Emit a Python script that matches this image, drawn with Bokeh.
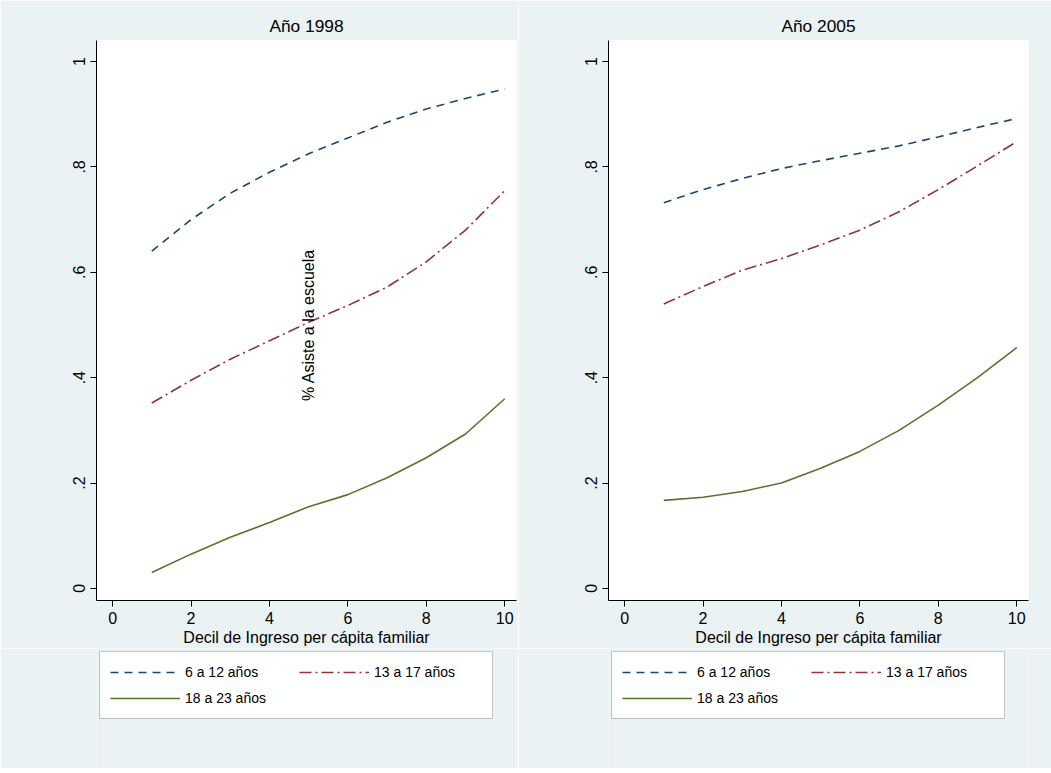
import math
from bokeh.plotting import figure
from bokeh.layouts import row, column
from bokeh.models import Legend, LegendItem, FixedTicker, Label, Range1d, CustomJSTickFormatter
from bokeh.embed import file_html
from bokeh.resources import INLINE

deciles = [1, 2, 3, 4, 5, 6, 7, 8, 9, 10]
y1998_6_12 = [0.640, 0.700, 0.750, 0.790, 0.825, 0.855, 0.885, 0.910, 0.930, 0.948]
y1998_13_17 = [0.352, 0.395, 0.435, 0.470, 0.505, 0.537, 0.572, 0.620, 0.680, 0.755]
y1998_18_23 = [0.030, 0.065, 0.097, 0.125, 0.155, 0.178, 0.210, 0.248, 0.293, 0.360]
y2005_6_12 = [0.732, 0.757, 0.778, 0.797, 0.812, 0.826, 0.840, 0.857, 0.875, 0.892]
y2005_13_17 = [0.540, 0.573, 0.604, 0.626, 0.652, 0.680, 0.715, 0.757, 0.802, 0.848]
y2005_18_23 = [0.167, 0.173, 0.184, 0.200, 0.228, 0.260, 0.300, 0.348, 0.400, 0.457]
series_names = ["6 a 12 años", "13 a 17 años", "18 a 23 años"]
y_ticks = [0, 0.2, 0.4, 0.6, 0.8, 1]

BG = "#eaf2f3"
FONT = "Liberation Sans"
STYLES = [("#1a476f", "8 6"), ("#90353b", "12 4 2 4"), ("#55752f", "solid")]


def panel(title, ys, left_border, right_border, ylabel=False):
    p = figure(frame_width=420, frame_height=560, output_backend="svg", toolbar_location=None,
               tools="", x_range=(-0.41, 10.3), y_range=(-0.023, 1.04),
               min_border_left=left_border, min_border_right=right_border,
               min_border_top=40, min_border_bottom=45, background_fill_color="white",
               border_fill_color=BG, outline_line_color=None)
    p.title.text = title
    p.title.align = "center"
    p.title.text_font = FONT
    p.title.text_font_size = "13pt"
    p.title.text_font_style = "normal"
    p.title.text_color = "black"
    p.grid.grid_line_color = None
    p.xaxis.ticker = FixedTicker(ticks=[0, 2, 4, 6, 8, 10])
    p.yaxis.ticker = FixedTicker(ticks=y_ticks)
    p.yaxis.formatter = CustomJSTickFormatter(
        code="var s = (Math.round(tick*10)/10).toString(); return s.replace(/^0\\./, '.');")
    p.yaxis.major_label_orientation = "vertical"
    p.xaxis.axis_label = "Decil de Ingreso per cápita familiar"
    for ax in (p.xaxis, p.yaxis):
        ax.axis_line_color = "black"
        ax.major_tick_line_color = "black"
        ax.minor_tick_line_color = None
        ax.major_tick_out = 6
        ax.major_tick_in = 0
        ax.major_label_text_font = FONT
        ax.major_label_text_font_size = "12pt"
        ax.major_label_text_color = "black"
        ax.axis_label_text_font = FONT
        ax.axis_label_text_font_size = "12pt"
        ax.axis_label_text_font_style = "normal"
        ax.axis_label_text_color = "black"
        ax.axis_label_standoff = 2
    for y, (c, d) in zip(ys, STYLES):
        p.line(deciles, y, line_color=c, line_dash=d, line_width=1.6)
    if ylabel:
        p.add_layout(Label(x=5.2, y=0.5, text="% Asiste a la escuela", angle=math.pi / 2,
                           text_font=FONT, text_font_size="12pt", text_color="black",
                           text_align="center", text_baseline="bottom"))

    # legend lives in its own strip below the plot
    lf = figure(frame_width=420, frame_height=120, output_backend="svg", toolbar_location=None,
                tools="", x_range=Range1d(0, 1), y_range=Range1d(0, 1),
                min_border_left=left_border, min_border_right=right_border,
                min_border_top=0, min_border_bottom=0, background_fill_color=BG,
                border_fill_color=BG, outline_line_color=None)
    lf.axis.visible = False
    lf.grid.grid_line_color = None
    items = []
    for name, (c, d) in zip(series_names, STYLES):
        r = lf.line([5, 6], [5, 5], line_color=c, line_dash=d, line_width=1.6)
        items.append(LegendItem(label=name, renderers=[r]))
    leg = Legend(items=items, ncols=2, orientation="horizontal", location="top_left",
                 label_text_font=FONT, label_text_font_size="10.5pt",
                 label_text_color="black", label_width=108,
                 border_line_color="#888888", background_fill_color="white",
                 glyph_width=70, spacing=6, margin=3, padding=10)
    lf.add_layout(leg, "center")
    return column(p, lf)


p1 = panel("Año 1998", [y1998_6_12, y1998_13_17, y1998_18_23], 96, 2, ylabel=True)
p2 = panel("Año 2005", [y2005_6_12, y2005_13_17, y2005_18_23], 90, 23)
p = row(p1, p2)
open("out.html", "w").write(file_html(p, INLINE))
